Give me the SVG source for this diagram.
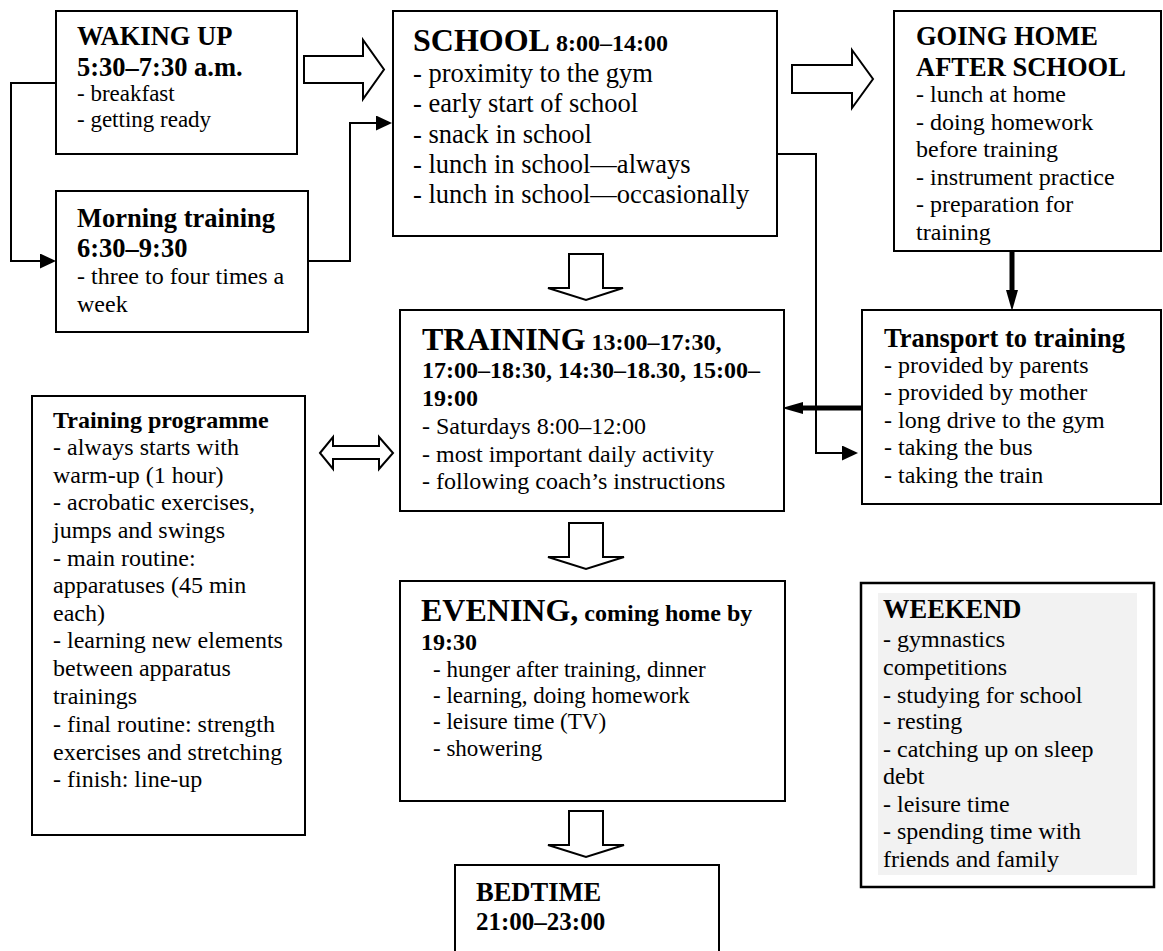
<svg xmlns="http://www.w3.org/2000/svg" width="1163" height="951" viewBox="0 0 1163 951">
<style>
.bg{fill:#fff}
.box{fill:#fff;stroke:#000;stroke-width:2}
.t{font-family:"Liberation Serif","Times New Roman",serif;fill:#000;font-size:24px}
.b{font-weight:bold}
.h{font-size:26.5px}
.H{font-size:32px}
.s{font-size:24px}
.hollow{fill:#fff;stroke:#000;stroke-width:2;stroke-linejoin:miter}
.ln{fill:none;stroke:#000;stroke-width:2}
.thick{fill:none;stroke:#000;stroke-width:5}
</style>
<defs>
<marker id="ah" markerUnits="userSpaceOnUse" viewBox="0 0 16 15" markerWidth="16" markerHeight="15" refX="0" refY="7.5" orient="auto">
<path d="M0,0 L16,7.5 L0,15 z" fill="#000"/>
</marker>
<marker id="ahT" markerUnits="userSpaceOnUse" viewBox="0 0 21 12" markerWidth="21" markerHeight="12" refX="0" refY="6" orient="auto">
<path d="M0,0 L21,6 L0,12 z" fill="#000"/>
</marker>
</defs>
<rect class="bg" x="0" y="0" width="1163" height="951"/>

<g id="connectors">
<path class="ln" d="M58,83 H11 V261 H40" marker-end="url(#ah)"/>
<path class="ln" d="M308,261 H350 V123 H376" marker-end="url(#ah)"/>
<path class="ln" d="M775,154 H816 V453 H842" marker-end="url(#ah)"/>
<path class="thick" d="M1012,252 V290" marker-end="url(#ahT)"/>
<path class="thick" d="M862,408 H803" marker-end="url(#ahT)"/>
<polygon class="hollow" points="304,56 363,56 363,40 384,69.5 363,99 363,83 304,83"/>
<polygon class="hollow" points="792,65 852,65 852,50 873,79 852,108 852,93 792,93"/>
<polygon class="hollow" points="569,254 603,254 603,288 623,288 586,300 548,288 569,288"/>
<polygon class="hollow" points="569,523 603,523 603,557 624,557 586,569 548,557 569,557"/>
<polygon class="hollow" points="569,811 603,811 603,845 624,845 586,857 548,845 569,845"/>
<polygon class="hollow" points="320,453 333,437 333,446 379,446 379,437 393,453 379,469 379,459 333,459 333,469"/>
</g>

<g id="waking">
<rect class="box" x="56" y="11" width="241" height="143"/>
<text class="t b h" x="77" y="45">WAKING UP</text>
<text class="t b h" x="77" y="76">5:30–7:30 a.m.</text>
<text class="t" x="77" y="101" style="font-size:23px">- breakfast</text>
<text class="t" x="77" y="127" style="font-size:23px">- getting ready</text>
</g>

<g id="morning">
<rect class="box" x="56" y="191" width="252" height="141"/>
<text class="t b h" x="77" y="227">Morning training</text>
<text class="t b h" x="77" y="257">6:30–9:30</text>
<text class="t" x="77" y="284">- three to four times a</text>
<text class="t" x="77" y="312">week</text>
</g>

<g id="school">
<rect class="box" x="393" y="11" width="384" height="225"/>
<text class="t b" x="413" y="51"><tspan class="H">SCHOOL</tspan><tspan class="s"> 8:00–14:00</tspan></text>
<text class="t h" x="413" y="82">- proximity to the gym</text>
<text class="t h" x="413" y="112">- early start of school</text>
<text class="t h" x="413" y="143">- snack in school</text>
<text class="t h" x="413" y="173">- lunch in school—always</text>
<text class="t h" x="413" y="203">- lunch in school—occasionally</text>
</g>

<g id="goinghome">
<rect class="box" x="894" y="11" width="267" height="240"/>
<text class="t b h" x="916" y="45">GOING HOME</text>
<text class="t b h" x="916" y="76">AFTER SCHOOL</text>
<text class="t" x="916" y="102">- lunch at home</text>
<text class="t" x="916" y="130">- doing homework</text>
<text class="t" x="916" y="157">before training</text>
<text class="t" x="916" y="185">- instrument practice</text>
<text class="t" x="916" y="212">- preparation for</text>
<text class="t" x="916" y="240">training</text>
</g>

<g id="transport">
<rect class="box" x="862" y="310" width="299" height="194"/>
<text class="t b h" x="884" y="347">Transport to training</text>
<text class="t" x="884" y="373">- provided by parents</text>
<text class="t" x="884" y="400">- provided by mother</text>
<text class="t" x="884" y="428">- long drive to the gym</text>
<text class="t" x="884" y="455">- taking the bus</text>
<text class="t" x="884" y="483">- taking the train</text>
</g>

<g id="training">
<rect class="box" x="400" y="310" width="384" height="201"/>
<text class="t b" x="422" y="350"><tspan class="H">TRAINING</tspan><tspan class="s"> 13:00–17:30,</tspan></text>
<text class="t b" x="422" y="378">17:00–18:30, 14:30–18.30, 15:00–</text>
<text class="t b" x="422" y="406">19:00</text>
<text class="t" x="422" y="434">- Saturdays 8:00–12:00</text>
<text class="t" x="422" y="462">- most important daily activity</text>
<text class="t" x="422" y="489">- following coach’s instructions</text>
</g>

<g id="programme">
<rect class="box" x="32" y="396" width="273" height="439"/>
<text class="t b" x="53" y="428">Training programme</text>
<text class="t" x="53" y="455">- always starts with</text>
<text class="t" x="53" y="483">warm-up (1 hour)</text>
<text class="t" x="53" y="510">- acrobatic exercises,</text>
<text class="t" x="53" y="538">jumps and swings</text>
<text class="t" x="53" y="566">- main routine:</text>
<text class="t" x="53" y="593">apparatuses (45 min</text>
<text class="t" x="53" y="621">each)</text>
<text class="t" x="53" y="648">- learning new elements</text>
<text class="t" x="53" y="676">between apparatus</text>
<text class="t" x="53" y="704">trainings</text>
<text class="t" x="53" y="732">- final routine: strength</text>
<text class="t" x="53" y="760">exercises and stretching</text>
<text class="t" x="53" y="787">- finish: line-up</text>
</g>

<g id="evening">
<rect class="box" x="400" y="581" width="385" height="220"/>
<text class="t b" x="421" y="621"><tspan class="H">EVENING,</tspan><tspan class="s"> coming home by</tspan></text>
<text class="t b" x="421" y="650">19:30</text>
<text class="t" x="433" y="677" style="font-size:23px">- hunger after training, dinner</text>
<text class="t" x="433" y="703" style="font-size:23px">- learning, doing homework</text>
<text class="t" x="433" y="729" style="font-size:23px">- leisure time (TV)</text>
<text class="t" x="433" y="756" style="font-size:23px">- showering</text>
</g>

<g id="bedtime">
<rect class="box" x="455" y="865" width="264" height="95"/>
<text class="t b h" x="476" y="901">BEDTIME</text>
<text class="t b" x="476" y="930" style="font-size:25px">21:00–23:00</text>
</g>

<g id="weekend">
<rect class="box" x="861" y="583" width="293" height="304" style="stroke-width:2.5"/>
<rect x="878" y="593" width="259" height="282" fill="#f2f2f2"/>
<text class="t b h" x="883" y="618">WEEKEND</text>
<text class="t" x="883" y="647">- gymnastics</text>
<text class="t" x="883" y="675">competitions</text>
<text class="t" x="883" y="703">- studying for school</text>
<text class="t" x="883" y="729">- resting</text>
<text class="t" x="883" y="757">- catching up on sleep</text>
<text class="t" x="883" y="784">debt</text>
<text class="t" x="883" y="812">- leisure time</text>
<text class="t" x="883" y="839">- spending time with</text>
<text class="t" x="883" y="867">friends and family</text>
</g>
</svg>
